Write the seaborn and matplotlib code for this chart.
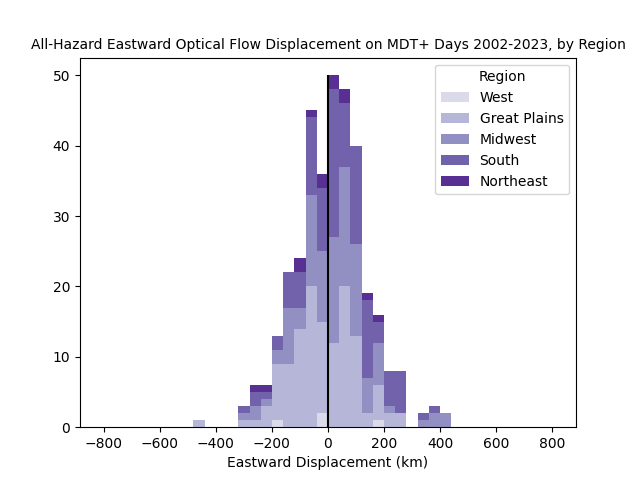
import numpy as np
import pandas as pd
import seaborn as sns
import matplotlib.pyplot as plt
import matplotlib.colors as mcolors

# Counts per 40 km bin (left edge of bin)
bin_left = [-480, -440, -400, -360, -320, -280, -240, -200, -160, -120, -80, -40,
            0, 40, 80, 120, 160, 200, 240, 280, 320, 360, 400]
west         = [0, 0, 0, 0, 0, 0, 0, 1, 0, 0, 0, 2, 0, 0, 0, 0, 1, 0, 0, 0, 0, 0, 0]
great_plains = [1, 0, 0, 0, 1, 1, 3, 8, 9, 14, 20, 13, 12, 20, 13, 2, 5, 2, 2, 0, 0, 0, 0]
midwest      = [0, 0, 0, 0, 1, 2, 1, 2, 8, 3, 13, 10, 15, 17, 13, 5, 6, 1, 0, 0, 1, 2, 2]
south        = [0, 0, 0, 0, 1, 2, 1, 2, 5, 5, 11, 9, 21, 9, 14, 11, 3, 5, 6, 0, 1, 1, 0]
northeast    = [0, 0, 0, 0, 0, 1, 1, 0, 0, 2, 1, 2, 2, 2, 0, 1, 1, 0, 0, 0, 0, 0, 0]

regions = ['West', 'Great Plains', 'Midwest', 'South', 'Northeast']
counts = [west, great_plains, midwest, south, northeast]

bin_width = 40
rows = []
for reg, cnt in zip(regions, counts):
    for left, c in zip(bin_left, cnt):
        rows.append({'disp': left + bin_width / 2, 'n': float(c), 'Region': reg})
df = pd.DataFrame(rows)

edges = np.arange(bin_left[0], bin_left[-1] + 2 * bin_width, bin_width)
colors = [mcolors.to_hex(c) for c in plt.get_cmap('Purples')(np.linspace(0.25, 0.85, 5))]
palette = dict(zip(regions, colors))

fig, ax = plt.subplots(figsize=(6.4, 4.8), dpi=100)
sns.histplot(data=df, x='disp', weights='n', hue='Region', hue_order=regions[::-1],
             palette=palette, multiple='stack', bins=list(edges), alpha=1,
             linewidth=0, ax=ax)

# stack with West at the bottom, but list West first in the legend
leg = ax.get_legend()
handles = leg.legend_handles
labels = [t.get_text() for t in leg.get_texts()]
ax.legend(handles[::-1], labels[::-1], title='Region', loc='upper right')

totals = np.sum(counts, axis=0)
ax.vlines(0, 0, totals.max(), color='black', linewidth=1.5)

ax.set_xlim(-885, 885)
ax.set_title('All-Hazard Eastward Optical Flow Displacement on MDT+ Days 2002-2023, by Region',
             fontsize=10)
ax.set_xlabel('Eastward Displacement (km)')
ax.set_ylabel('')

plt.savefig('out.png')
